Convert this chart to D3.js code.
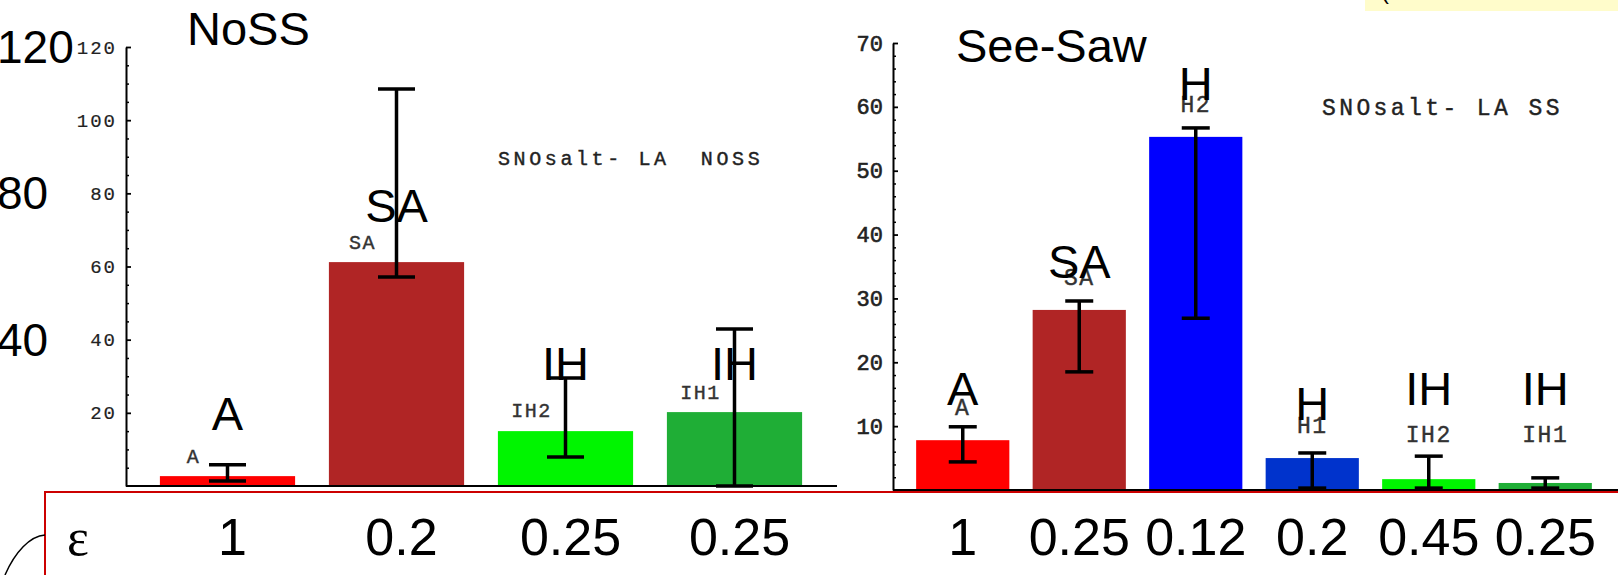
<!DOCTYPE html>
<html>
<head>
<meta charset="utf-8">
<script src="https://cdn.jsdelivr.net/npm/d3@7/dist/d3.min.js"></script>
<style>
  html, body { margin: 0; padding: 0; background: #fff; }
  svg { display: block; }
</style>
</head>
<body>
<svg id="chart" width="1618" height="575"></svg>
<script>
// ---------------- DATA ----------------
// Left panel: NoSS
const noSSCategories = ["A", "SA", "IH2", "IH1"];
const noSSValues     = [2.7, 61.2, 15.0, 20.2];
const noSSErrLow     = [1.4, 57.1, 7.9, 0.0];
const noSSErrHigh    = [5.8, 108.5, 29.5, 42.9];
const noSSBigLabels  = ["A", "SA", "IH", "IH"];
const noSSBigLevels  = [15.3, 72.1, 29.0, 29.0];
const noSSEpsilon    = ["1", "0.2", "0.25", "0.25"];
const noSSTicks      = [20, 40, 60, 80, 100, 120];
const noSSSideTicks  = [120, 80, 40];
const noSSNote       = "SNOsalt- LA  NOSS";

// Right panel: See-Saw
const ssCategories = ["A", "SA", "H2", "H1", "IH2", "IH1"];
const ssValues     = [7.8, 28.2, 55.3, 5.0, 1.7, 1.1];
const ssErrLow     = [4.4, 18.5, 26.9, 0.3, 0.3, 0.3];
const ssErrHigh    = [9.9, 29.6, 56.7, 5.8, 5.3, 1.9];
const ssBigLabels  = ["A", "SA", "H", "H", "IH", "IH"];
const ssBigLevels  = [13.3, 33.2, 61.0, 11.0, 13.3, 13.3];
const ssEpsilon    = ["1", "0.25", "0.12", "0.2", "0.45", "0.25"];
const ssTicks      = [10, 20, 30, 40, 50, 60, 70];
const ssNote       = "SNOsalt- LA SS";

// ---------------- STYLE ----------------
const colorMap = {
  A: "#ff0000", SA: "#b02525", H2: "#0000ff", H1: "#0033cc",
  IH2: "#00f500", IH1: "#1fae36"
};
const SANS = "Arial, 'Liberation Sans', Helvetica, sans-serif";
const MONO = "'Liberation Mono', 'Courier New', monospace";
const SERIF = "'Liberation Serif', 'Times New Roman', serif";

const svg = d3.select("#chart");
svg.append("rect").attr("width", 1618).attr("height", 575).attr("fill", "#fff");

function panel(cfg) {
  const g = svg.append("g");
  const y = d3.scaleLinear().domain([0, cfg.max]).range([cfg.yBase, cfg.yTop]);
  const x = d3.scaleBand().domain(cfg.cats).range([cfg.bandStart, cfg.bandEnd])
    .paddingInner(0.2).paddingOuter(0.1);
  const idx = d3.range(cfg.cats.length);
  const cx = i => x(cfg.cats[i]) + x.bandwidth() / 2;

  // bars
  g.selectAll("rect.bar").data(idx).join("rect").attr("class", "bar")
    .attr("x", i => x(cfg.cats[i]))
    .attr("width", x.bandwidth())
    .attr("y", i => y(cfg.values[i]))
    .attr("height", i => y(0) - y(cfg.values[i]))
    .attr("fill", i => colorMap[cfg.cats[i]]);

  // small category labels (above bar, never further than a fixed gap below the big label)
  g.selectAll("text.small").data(idx).join("text").attr("class", "small")
    .attr("x", i => cx(i) + cfg.smallDx)
    .attr("y", i => Math.min(y(cfg.values[i]) - cfg.smallDy, y(cfg.bigLevels[i]) + 37))
    .attr("text-anchor", "middle")
    .attr("font-family", MONO).attr("font-size", cfg.smallSize)
    .attr("letter-spacing", cfg.smallLs)
    .attr("fill", "#333").attr("stroke", "#333").attr("stroke-width", 0.4)
    .text(i => cfg.cats[i]);

  // error bars
  const eb = g.selectAll("g.err").data(idx).join("g").attr("class", "err")
    .attr("stroke", "#000").attr("stroke-width", 3.5);
  eb.append("line")
    .attr("x1", cx).attr("x2", cx)
    .attr("y1", i => y(cfg.lo[i])).attr("y2", i => y(cfg.hi[i]));
  eb.append("line")
    .attr("x1", i => cx(i) - cfg.cap / 2).attr("x2", i => cx(i) + cfg.cap / 2)
    .attr("y1", i => y(cfg.hi[i])).attr("y2", i => y(cfg.hi[i]));
  eb.append("line")
    .attr("x1", i => cx(i) - cfg.cap / 2).attr("x2", i => cx(i) + cfg.cap / 2)
    .attr("y1", i => y(cfg.lo[i])).attr("y2", i => y(cfg.lo[i]));

  // big labels
  g.selectAll("text.big").data(idx).join("text").attr("class", "big")
    .attr("x", cx)
    .attr("y", i => y(cfg.bigLevels[i]))
    .attr("text-anchor", "middle")
    .attr("font-family", SANS).attr("font-size", 47).attr("fill", "#000")
    .text(i => cfg.big[i]);

  // y axis: minor ticks
  const minor = d3.range(0, cfg.max + 1e-9, cfg.minorStep)
    .filter(v => v > 0 && !cfg.ticks.includes(v));
  const minorAxis = g.append("g").attr("transform", `translate(${cfg.x0},0)`)
    .call(d3.axisLeft(y).tickValues(minor).tickSize(-3).tickFormat(""));
  minorAxis.select(".domain").remove();
  minorAxis.selectAll("line").attr("stroke", "#000").attr("stroke-width", 1.5);

  const majorAxis = g.append("g").attr("transform", `translate(${cfg.x0},0)`)
    .call(d3.axisLeft(y).tickValues(cfg.ticks).tickSizeInner(-5).tickSizeOuter(0).tickPadding(cfg.tickPad));
  majorAxis.select(".domain").attr("stroke", "#000").attr("stroke-width", 2);
  majorAxis.selectAll(".tick line").attr("stroke", "#000").attr("stroke-width", 1.8);
  majorAxis.selectAll("text").attr("font-family", MONO).attr("font-size", cfg.tickSize)
    .attr("letter-spacing", cfg.tickLs).attr("fill", "#222")
    .attr("stroke", "#222").attr("stroke-width", cfg.tickStroke);

  // baseline
  g.append("line").attr("x1", cfg.x0).attr("x2", cfg.axisEnd)
    .attr("y1", y(0)).attr("y2", y(0)).attr("stroke", "#000").attr("stroke-width", 2);

  // note text
  g.append("text").attr("x", cfg.noteX).attr("y", cfg.noteY)
    .attr("font-family", MONO).attr("font-size", cfg.noteSize)
    .attr("letter-spacing", cfg.noteLs).attr("fill", "#222")
    .attr("stroke", "#222").attr("stroke-width", 0.4)
    .attr("xml:space", "preserve").style("white-space", "pre")
    .text(cfg.note);

  // title
  g.append("text").attr("x", cfg.titleX).attr("y", cfg.titleY)
    .attr("font-family", SANS).attr("font-size", 47).attr("fill", "#000")
    .text(cfg.title);

  // epsilon row
  g.selectAll("text.eps").data(idx).join("text").attr("class", "eps")
    .attr("x", i => cx(i) + cfg.epsDx)
    .attr("y", 555)
    .attr("text-anchor", "middle")
    .attr("font-family", SANS).attr("font-size", 52).attr("fill", "#000")
    .text(i => cfg.eps[i]);

  return y;
}

const yL = panel({
  cats: noSSCategories, values: noSSValues, lo: noSSErrLow, hi: noSSErrHigh,
  big: noSSBigLabels, bigLevels: noSSBigLevels, eps: noSSEpsilon, ticks: noSSTicks,
  max: 120, minorStep: 5, yBase: 486, yTop: 47, bandStart: 143, bandEnd: 819,
  x0: 126, axisEnd: 837, cap: 37, smallDx: -34, smallDy: 13, smallSize: 20, smallLs: 1.5,
  tickSize: 19, tickLs: 2, tickPad: 9, tickStroke: 0.2,
  note: noSSNote, noteX: 498, noteY: 165, noteSize: 20, noteLs: 3.6,
  title: "NoSS", titleX: 187, titleY: 45, epsDx: 5
});

panel({
  cats: ssCategories, values: ssValues, lo: ssErrLow, hi: ssErrHigh,
  big: ssBigLabels, bigLevels: ssBigLevels, eps: ssEpsilon, ticks: ssTicks,
  max: 70, minorStep: 2, yBase: 490, yTop: 43, bandStart: 904.5, bandEnd: 1603.5,
  x0: 893, axisEnd: 1618, cap: 28, smallDx: 0, smallDy: 25, smallSize: 23, smallLs: 1.5,
  tickSize: 22, tickLs: 0, tickPad: 10, tickStroke: 0.6,
  note: ssNote, noteX: 1322, noteY: 115, noteSize: 23, noteLs: 3.4,
  title: "See-Saw", titleX: 956, titleY: 62, epsDx: 0
});

// Large side numbers on far left (aligned to left scale)
svg.selectAll("text.side").data(noSSSideTicks).join("text").attr("class", "side")
  .attr("x", -3).attr("y", d => yL(d)).attr("dy", "0.35em")
  .attr("font-family", SANS).attr("font-size", 46).attr("fill", "#000")
  .text(d => d);

// red bordered epsilon box
svg.append("path").attr("d", "M45,575 V492 H1618")
  .attr("fill", "none").attr("stroke", "#cc0000").attr("stroke-width", 2);
svg.append("text").attr("x", 67).attr("y", 555)
  .attr("font-family", SERIF).attr("font-size", 52).attr("fill", "#000").text("ε");
svg.append("path").attr("d", "M45,535 C30,536 15,552 5,575")
  .attr("fill", "none").attr("stroke", "#000").attr("stroke-width", 1.5);

// yellow note box at top right
svg.append("rect").attr("x", 1365).attr("y", -2).attr("width", 260).attr("height", 13)
  .attr("fill", "#fffccb");
svg.append("text").attr("x", 1381).attr("y", -1)
  .attr("font-family", SANS).attr("font-size", 24).attr("fill", "#000").text("(");
</script>
</body>
</html>
